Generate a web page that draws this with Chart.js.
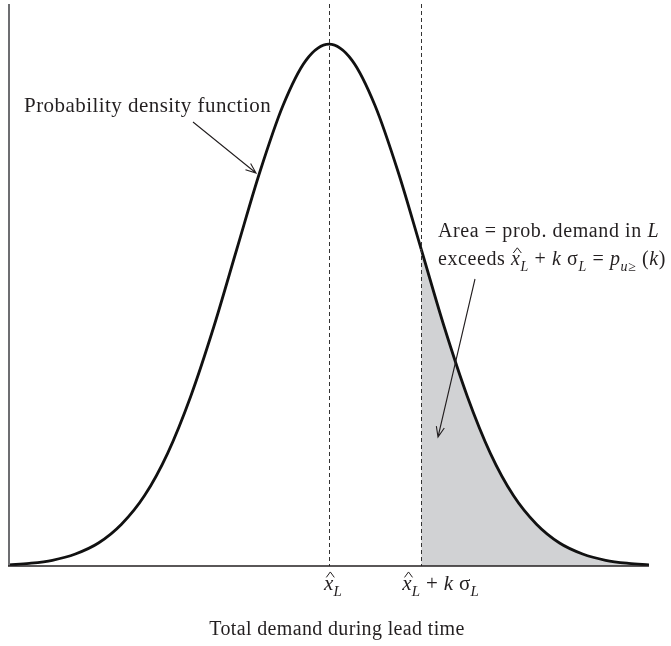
<!DOCTYPE html>
<html>
<head>
<meta charset="utf-8">
<script src="https://cdn.jsdelivr.net/npm/chart.js@4/dist/chart.umd.min.js"></script>
<style>
  html, body { margin: 0; padding: 0; background: #fff; }
  #wrap { width: 671px; height: 646px; }
</style>
</head>
<body>
<div id="wrap"><canvas id="demandChart"></canvas></div>
<script>
// demand in units of sigma from the mean, density relative to the peak
const demand  = [-3.47, -3.25, -3.0, -2.75, -2.5, -2.25, -2.0, -1.75, -1.5, -1.25, -1.0, -0.75, -0.5, -0.25, 0,
                 0.25, 0.5, 0.75, 1.0, 1.25, 1.5, 1.75, 2.0, 2.25, 2.5, 2.75, 3.0, 3.25, 3.47];
const density = [0.002, 0.005, 0.011, 0.023, 0.044, 0.080, 0.135, 0.216, 0.325, 0.458, 0.607, 0.755, 0.882, 0.969, 1.000,
                 0.969, 0.882, 0.755, 0.607, 0.458, 0.325, 0.216, 0.135, 0.080, 0.044, 0.023, 0.011, 0.005, 0.002];
const tickValues = [0, 1];          // x̂L and x̂L + kσL
const tickShift = [-5, -19];
const shadeFrom = 1;                // area to the right of x̂L + kσL

const FONT = '"Liberation Serif", "DejaVu Serif", serif';

// rich text runs: t = text, i = italic, sub = subscript, hat = circumflex over it
const tickLabels = [
  [{ t: 'x', i: true, hat: true }, { t: 'L', i: true, sub: true }],
  [{ t: 'x', i: true, hat: true }, { t: 'L', i: true, sub: true }, { t: ' + ' }, { t: 'k', i: true },
   { t: ' σ' }, { t: 'L', i: true, sub: true }]
];
const noteCurve = [[{ t: 'Probability density function' }]];
const noteArea = [
  [{ t: 'Area = prob. demand in ' }, { t: 'L', i: true }],
  [{ t: 'exceeds ' }, { t: 'x', i: true, hat: true }, { t: 'L', i: true, sub: true }, { t: ' + ' }, { t: 'k', i: true },
   { t: ' σ' }, { t: 'L', i: true, sub: true }, { t: ' = ' }, { t: 'p', i: true }, { t: 'u', i: true, sub: true },
   { t: '≥', sub: true }, { t: ' (' }, { t: 'k', i: true }, { t: ')' }]
];
const xTitle = 'Total demand during lead time';

function runFont(r, size) {
  const s = r.sub ? Math.round(size * 0.72) : size;
  return (r.i ? 'italic ' : '') + s + 'px ' + FONT;
}
function drawRuns(ctx, runs, x, y, size, spacing) {
  ctx.save();
  ctx.letterSpacing = (spacing || 0) + 'px';
  ctx.textBaseline = 'alphabetic';
  ctx.textAlign = 'left';
  runs.forEach(r => {
    ctx.font = runFont(r, size);
    const w = ctx.measureText(r.t).width;
    const yy = r.sub ? y + size * 0.3 : y;
    ctx.fillText(r.t, x, yy);
    if (r.hat) {
      // circumflex drawn as a small chevron above the letter
      const cx = x + w / 2 + 1.5;
      ctx.save();
      ctx.lineWidth = 1;
      ctx.strokeStyle = ctx.fillStyle;
      ctx.beginPath();
      ctx.moveTo(cx - 4, y - size * 0.6);
      ctx.lineTo(cx, y - size * 0.86);
      ctx.lineTo(cx + 4, y - size * 0.6);
      ctx.stroke();
      ctx.restore();
    }
    x += w;
  });
  ctx.restore();
}
function arrow(ctx, x1, y1, x2, y2) {
  const a = Math.atan2(y2 - y1, x2 - x1), len = 11, sp = 0.38;
  ctx.beginPath();
  ctx.moveTo(x1, y1); ctx.lineTo(x2, y2);
  ctx.moveTo(x2 - len * Math.cos(a - sp), y2 - len * Math.sin(a - sp));
  ctx.lineTo(x2, y2);
  ctx.lineTo(x2 - len * Math.cos(a + sp), y2 - len * Math.sin(a + sp));
  ctx.stroke();
}

const decor = {
  id: 'decor',
  afterDatasetsDraw(chart) {
    const ctx = chart.ctx, ca = chart.chartArea;
    const xs = chart.scales.x;
    ctx.save();
    // dashed reference lines
    ctx.strokeStyle = '#333';
    ctx.lineWidth = 1;
    ctx.setLineDash([4, 3]);
    tickValues.forEach(v => {
      const px = Math.round(xs.getPixelForValue(v)) + 0.5;
      ctx.beginPath(); ctx.moveTo(px, ca.top); ctx.lineTo(px, ca.bottom); ctx.stroke();
    });
    ctx.setLineDash([]);
    // axes
    ctx.strokeStyle = '#6d6e71';
    ctx.lineWidth = 2;
    ctx.beginPath(); ctx.moveTo(ca.left, ca.top); ctx.lineTo(ca.left, ca.bottom); ctx.stroke();
    ctx.strokeStyle = '#231f20';
    ctx.lineWidth = 1.6;
    ctx.beginPath(); ctx.moveTo(ca.left - 1, ca.bottom); ctx.lineTo(ca.right, ca.bottom); ctx.stroke();

    ctx.fillStyle = '#231f20';
    // tick labels
    tickValues.forEach((v, k) => {
      const px = xs.getPixelForValue(v);
      drawRuns(ctx, tickLabels[k], px + tickShift[k], ca.bottom + 24, 21, 0.3);
    });
    // axis title
    ctx.save();
    ctx.letterSpacing = '0.35px';
    ctx.font = '20px ' + FONT;
    const tw = ctx.measureText(xTitle).width;
    ctx.fillText(xTitle, (ca.left + ca.right) / 2 + 8 - tw / 2, ca.bottom + 69);
    ctx.restore();

    // annotations
    drawRuns(ctx, noteCurve[0], 24, 112, 21, 0.45);
    drawRuns(ctx, noteArea[0], 438, 237, 20, 0.6);
    drawRuns(ctx, noteArea[1], 438, 265, 20, 0.6);

    ctx.strokeStyle = '#231f20';
    ctx.lineWidth = 1.1;
    arrow(ctx, 193, 122, 256, 173);
    arrow(ctx, 475, 279, 438, 437);
    ctx.restore();
  }
};

const ctx1 = document.getElementById('demandChart').getContext('2d');
const demandChart = new Chart(ctx1, {
  type: 'line',
  data: {
    datasets: [{
      data: demand.map((d, k) => ({ x: d, y: density[k] })),
      borderColor: '#111',
      borderWidth: 2.8,
      pointRadius: 0,
      cubicInterpolationMode: 'monotone',
      fill: 'origin',
      backgroundColor: '#d1d2d4',
      segment: {
        backgroundColor: c => c.p0.parsed.x >= shadeFrom ? '#d1d2d4' : 'rgba(0,0,0,0)'
      }
    }]
  },
  options: {
    responsive: true,
    maintainAspectRatio: false,
    animation: false,
    layout: { padding: { left: 9, right: 22, top: 4, bottom: 80 } },
    scales: {
      x: { type: 'linear', min: -3.47, max: 3.47, display: false },
      y: { min: 0, max: 1.077, display: false }
    },
    plugins: {
      legend: { display: false },
      tooltip: { enabled: false }
    }
  },
  plugins: [decor]
});
</script>
</body>
</html>
